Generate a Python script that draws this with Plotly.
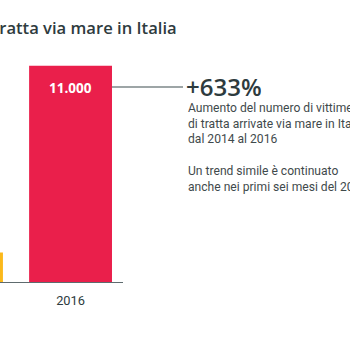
import plotly.graph_objects as go

years = ["2014", "2016"]
victims = [1500, 11000]
bar_colors = ["#FBB91B", "#EA1F4B"]
value_labels = ["1.500", "11.000"]
title_text = "Vittime di tratta via mare in Italia"
headline = "+633%"
body_lines = [
    "Aumento del numero di vittime",
    "di tratta arrivate via mare in Italia",
    "dal 2014 al 2016",
    "",
    "Un trend simile è continuato",
    "anche nei primi sei mesi del 2017",
]

dark = "#2E3B3E"
body_col = "#3F4A4C"

fig = go.Figure()
fig.add_trace(go.Bar(
    x=years, y=victims, marker=dict(color=bar_colors, line=dict(width=0)),
    width=0.76, hoverinfo="skip",
))

# value label inside top of the last bar
fig.add_annotation(
    x=len(years) - 1, y=victims[-1], xref="x", yref="y",
    text="<b>" + value_labels[-1] + "</b>", showarrow=False,
    yanchor="top", yshift=-11,
    font=dict(family="Open Sans", size=13.5, color="white"),
)

W_PLOT = 123.0  # plot width in px
def px(xp):
    return xp / W_PLOT

# connector line
fig.add_shape(type="line", xref="paper", yref="paper",
              x0=px(112), x1=px(183), y0=(282 - 87) / 236, y1=(282 - 87) / 236,
              line=dict(color="#7D8789", width=1.3))

fig.add_annotation(
    x=px(185), y=(282 - 86) / 236, xref="paper", yref="paper",
    text=headline, showarrow=False, xanchor="left", yanchor="middle",
    height=20, valign="middle", borderpad=0,
    font=dict(family="Open Sans", size=24, color=dark, weight=600),
)

fig.add_annotation(
    x=px(187), y=(282 - 100) / 236, xref="paper", yref="paper",
    text="<br>".join(body_lines), showarrow=False, xanchor="left", yanchor="top",
    align="left", borderpad=0,
    font=dict(family="Roboto", size=12.1, color=body_col),
)

fig.add_annotation(
    x=px(179), y=(282 - 27) / 236, xref="paper", yref="paper",
    text=title_text, showarrow=False, xanchor="right", yanchor="middle",
    font=dict(family="Open Sans", size=16.6, color=dark, weight=600),
)

fig.update_layout(
    width=350, height=350,
    margin=dict(l=0, r=350 - 123, t=46, b=68),
    paper_bgcolor="white", plot_bgcolor="white",
    showlegend=False,
    xaxis=dict(type="category", range=[0.353, 1.481], showgrid=False,
               showline=True, linecolor="#5E6B6E", linewidth=1.3,
               ticks="", ticklabelstandoff=6,
               tickfont=dict(family="Roboto", size=12.8, color=dark)),
    yaxis=dict(range=[0, 12000], visible=False),
)

fig.write_html("out.html")
